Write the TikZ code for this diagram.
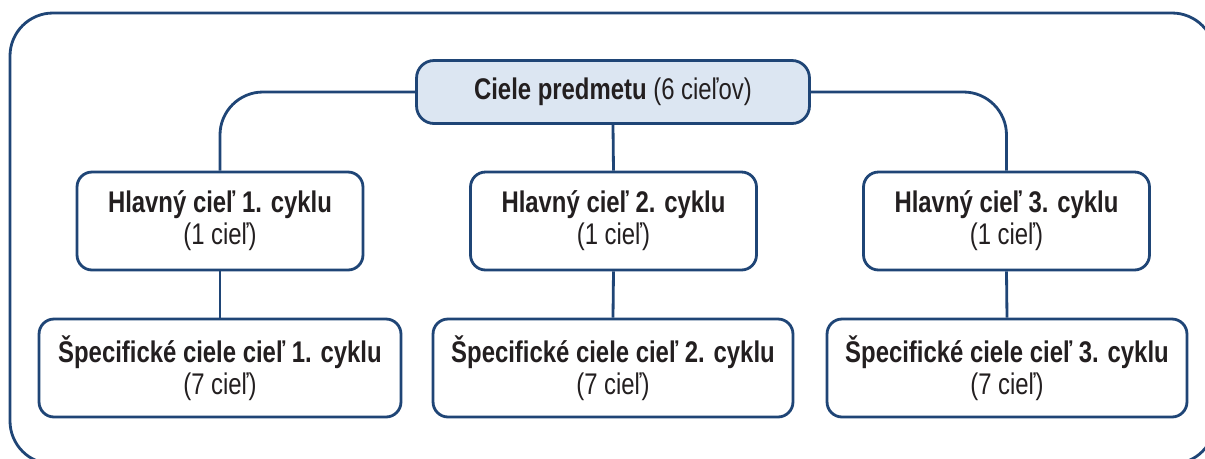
\documentclass[tikz,border=0pt]{standalone}
\usepackage{fontspec}
\setmainfont{Liberation Sans}[FakeStretch=0.8]
\usepackage{xcolor}
\usepackage{tikz}
\definecolor{frameblue}{HTML}{1F4576}
\definecolor{boxfill}{HTML}{DCE6F2}
\definecolor{txt}{HTML}{231F20}

\begin{document}
\begin{tikzpicture}[x=0.02cm, y=-0.02cm, line width=1.6pt,
    every node/.style={font=\fontsize{17}{18.2}\selectfont, text=txt, align=center},
    goalbox/.style={draw=frameblue, fill=white, rounded corners=0.3cm, minimum height=1.96cm}]
    \useasboundingbox (0,0) rectangle (1205,458);
    \clip (0,0) rectangle (1205,458);

    % Frame
    \draw[frameblue, rounded corners=0.86cm] (10,13) rectangle (1215,464);

    % Subject goals
    \node[draw=frameblue, fill=boxfill, rounded corners=0.35cm, minimum width=7.86cm, minimum height=1.26cm] (goals) at (613,92) {\textbf{Ciele predmetu} (6 cieľov)};

    % Main goals of the cycles
    \node[goalbox, minimum width=5.72cm] (m1) at (220,221) {\textbf{Hlavný cieľ 1. cyklu}\\(1 cieľ)};
    \node[goalbox, minimum width=5.72cm] (m2) at (613.5,221) {\textbf{Hlavný cieľ 2. cyklu}\\(1 cieľ)};
    \node[goalbox, minimum width=5.72cm] (m3) at (1006.5,221) {\textbf{Hlavný cieľ 3. cyklu}\\(1 cieľ)};

    % Specific goals
    \node[goalbox, minimum width=7.24cm] (s1) at (220,368) {\textbf{Špecifické ciele cieľ 1. cyklu}\\(7 cieľ)};
    \node[goalbox, minimum width=7.2cm] (s2) at (613,368) {\textbf{Špecifické ciele cieľ 2. cyklu}\\(7 cieľ)};
    \node[goalbox, minimum width=7.2cm] (s3) at (1007,368) {\textbf{Špecifické ciele cieľ 3. cyklu}\\(7 cieľ)};

    % Connectors
    \draw[frameblue, rounded corners=0.86cm] (goals.west) -| (m1.north);
    \draw[frameblue, rounded corners=0.86cm] (goals.east) -| (m3.north);
    \draw[frameblue] (goals.south) -- (m2.north);
    \foreach \i in {1,2,3}{
        \draw[frameblue] (m\i.south) -- (s\i.north);
    }
\end{tikzpicture}
\end{document}
